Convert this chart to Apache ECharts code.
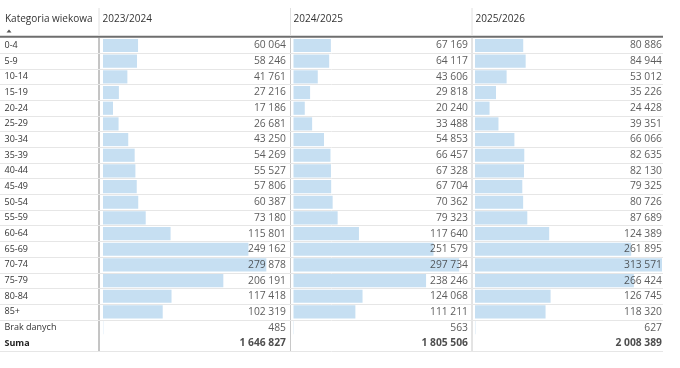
<!DOCTYPE html>
<html><head><meta charset="utf-8">
<script src="https://cdn.jsdelivr.net/npm/echarts@6/dist/echarts.min.js"></script>
<style>html,body{margin:0;padding:0;background:#fff}#c{width:680px;height:368px}</style>
</head><body><div id="c"></div>
<script>
const categories = ['0-4','5-9','10-14','15-19','20-24','25-29','30-34','35-39','40-44','45-49','50-54','55-59','60-64','65-69','70-74','75-79','80-84','85+','Brak danych'];
const totalLabel = 'Suma';
const headerLabel = 'Kategoria wiekowa';
const periods = ['2023/2024','2024/2025','2025/2026'];
const v2023 = [60064,58246,41761,27216,17186,26681,43250,54269,55527,57806,60387,73180,115801,249162,279878,206191,117418,102319,485];
const v2024 = [67169,64117,43606,29818,20240,33488,54853,66457,67328,67704,70362,79323,117640,251579,297734,238246,124068,111211,563];
const v2025 = [80886,84944,53012,35226,24428,39351,66066,82635,82130,79325,80726,87689,124389,261895,313571,266424,126745,118320,627];
const totals = [1646827,1805506,2008389];

const series3 = [v2023, v2024, v2025];
const gmax = Math.max(...v2023, ...v2024, ...v2025);
const rows = categories.concat([totalLabel]);
const FONT = '"Open Sans", "Noto Sans", sans-serif';
const fmt = n => String(n).replace(/\B(?=(\d{3})+(?!\d))/g, ' ');

const TOP = 37.7, ROWH = 15.67, H = ROWH * rows.length;
const cols = [{l:103, r:286, hx:102.5, div:99}, {l:293.5, r:468, hx:293.5, div:290.5}, {l:475, r:662, hx:475.5, div:472}];

const grids = [{left:0, top:TOP, width:663, height:H}];
const xAxes = [{gridIndex:0, type:'value', show:false, min:0, max:1}];
const yAxes = [{gridIndex:0, type:'category', data:rows, inverse:true,
  axisLine:{show:false}, axisTick:{show:false},
  axisLabel:{inside:true, margin:4.5, color:'#333', fontFamily:FONT, fontSize:9,
    formatter:(v)=> v===totalLabel ? '{b|'+v+'}' : v,
    rich:{b:{fontWeight:'bold', color:'#222', fontFamily:FONT, fontSize:9}}},
  splitLine:{show:true, interval:(i)=> i>=1 && i<=18, lineStyle:{color:'#e6e6e6', width:1}}
}];
const series = [];
cols.forEach((c, k) => {
  const gi = k + 1;
  grids.push({left:c.l, top:TOP, width:c.r - c.l, height:H});
  xAxes.push({gridIndex:gi, type:'value', show:false, min:0, max:gmax});
  yAxes.push({gridIndex:gi, type:'category', data:rows, inverse:true, show:false});
  const vals = series3[k];
  series.push({type:'bar', xAxisIndex:gi, yAxisIndex:gi, data:vals.concat(['-']),
    barWidth:'84%', itemStyle:{color:'#c6dff2'}, silent:true});
  const lab = vals.map((v,i)=>[gmax, i, v]).concat([[gmax, rows.length-1, totals[k], 1]]);
  series.push({type:'scatter', xAxisIndex:gi, yAxisIndex:gi, symbolSize:0, silent:true,
    data: lab,
    label:{show:true, position:'left', distance:0, fontFamily:FONT, fontSize:10.3, color:'#333',
      formatter:(p)=> p.value[3] ? '{b|'+fmt(p.value[2])+'}' : fmt(p.value[2]),
      rich:{b:{fontWeight:'bold', color:'#222', fontFamily:FONT, fontSize:10.3}}}});
});

const graphic = [
  {type:'text', left:5, top:14, style:{text:headerLabel, fill:'#333', font:'10px '+FONT}},
  {type:'polygon', shape:{points:[[6.5,32.5],[11.5,32.5],[9,29.5]]}, style:{fill:'#555'}},
  {type:'line', shape:{x1:0, y1:TOP-0.9, x2:663, y2:TOP-0.9}, style:{stroke:'#6e6e6e', lineWidth:2}}
];
cols.forEach((c,k)=>{
  graphic.push({type:'text', left:c.hx, top:14, style:{text:periods[k], fill:'#333', font:'10px '+FONT}});
  graphic.push({type:'line', shape:{x1:c.div, y1:8, x2:c.div, y2:TOP-2}, style:{stroke:'#e0e0e0', lineWidth:1}});
  graphic.push({type:'line', shape:{x1:c.div, y1:TOP, x2:c.div, y2:TOP+H}, style:{stroke: k===0 ? '#8a8a8a' : '#c8c8c8', lineWidth:1}});
});

const chart = echarts.init(document.getElementById('c'), null, {renderer:'canvas'});
chart.setOption({animation:false, grid:grids, xAxis:xAxes, yAxis:yAxes, series:series, graphic:graphic});
</script></body></html>
